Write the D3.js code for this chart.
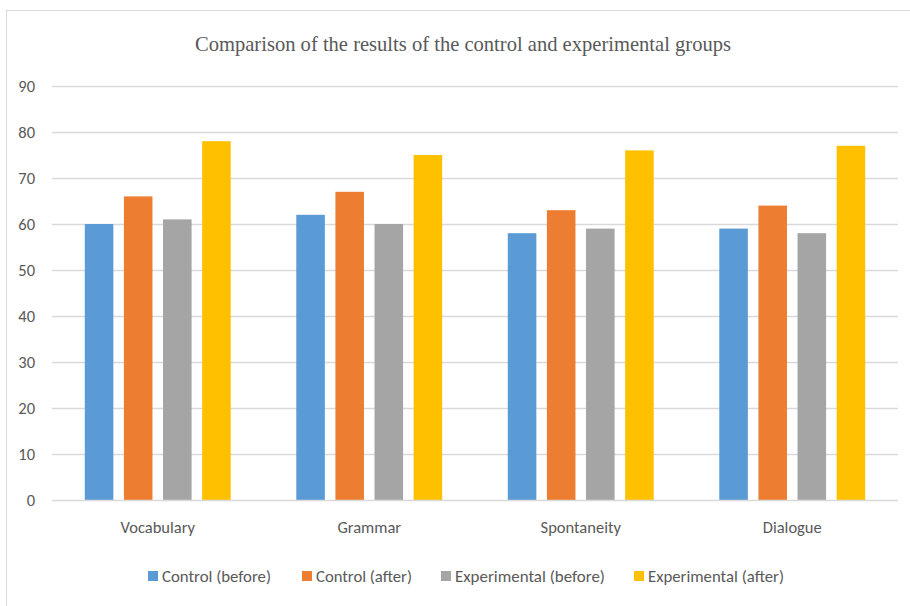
<!DOCTYPE html>
<html>
<head>
<meta charset="utf-8">
<script src="https://cdn.jsdelivr.net/npm/d3@7"></script>
<style>
  body { margin: 0; background: #fff; }
  svg { display: block; }
  .tick text { fill: #595959; }
</style>
</head>
<body>
<div id="chart"></div>
<script>
// chart data
const categories = ['Vocabulary', 'Grammar', 'Spontaneity', 'Dialogue'];
const seriesNames = ['Control (before)', 'Control (after)', 'Experimental (before)', 'Experimental (after)'];
const controlBefore = [60, 62, 58, 59];
const controlAfter = [66, 67, 63, 64];
const experimentalBefore = [61, 60, 59, 58];
const experimentalAfter = [78, 75, 76, 77];
const yTicks = [0, 10, 20, 30, 40, 50, 60, 70, 80, 90];

const colors = ['#5B9BD5', '#ED7D31', '#A5A5A5', '#FFC000'];
const seriesValues = [controlBefore, controlAfter, experimentalBefore, experimentalAfter];

function barChart() {
    let width = 910,
        height = 606,
        margin = { top: 86, left: 52, right: 12, bottom: 106 },
        title = 'Comparison of the results of the control and experimental groups',
        font = 'Carlito, Lato, sans-serif';

    function chart(selector) {
        let svg = d3.select(selector)
            .append('svg')
            .attr('width', width)
            .attr('height', height)

        // outer frame
        svg.append('rect')
            .attr('x', 6.5)
            .attr('y', 10.5)
            .attr('width', width + 20)
            .attr('height', height)
            .attr('fill', 'none')
            .attr('stroke', '#d9d9d9')

        // flatten data into one row per bar
        let rows = []
        categories.forEach((c, i) => {
            seriesNames.forEach((s, j) => {
                rows.push({ category: c, series: s, value: seriesValues[j][i], color: colors[j] })
            })
        })

        let x0 = d3.scaleBand()
            .domain(categories)
            .range([margin.left, width - margin.right])
            .paddingInner(0.31)
            .paddingOuter(0.155)

        let x1 = d3.scaleBand()
            .domain(seriesNames)
            .range([0, x0.bandwidth()])
            .paddingInner(0.27)

        let y = d3.scaleLinear()
            .domain([0, 90])
            .range([height - margin.bottom, margin.top])

        // gridlines
        svg.append('g')
            .selectAll('line')
            .data(yTicks.slice(1)).enter()
            .append('line')
            .attr('x1', margin.left)
            .attr('x2', width - margin.right)
            .attr('y1', d => Math.round(y(d)) + 0.5)
            .attr('y2', d => Math.round(y(d)) + 0.5)
            .attr('stroke', '#d9d9d9')
            .attr('stroke-width', 1.3)

        // y axis labels
        let yAxis = svg.append('g')
            .attr('transform', `translate(${margin.left},0)`)
            .call(d3.axisLeft(y).tickValues(yTicks).tickSize(0).tickPadding(17))
        yAxis.select('.domain').remove()
        yAxis.selectAll('text')
            .style('font-family', font)
            .style('font-size', '16.5px')

        // bars
        svg.append('g')
            .selectAll('rect')
            .data(rows).enter()
            .append('rect')
            .attr('x', d => x0(d.category) + x1(d.series))
            .attr('y', d => y(d.value))
            .attr('width', x1.bandwidth())
            .attr('height', d => y(0) - y(d.value))
            .attr('fill', d => d.color)

        // baseline
        svg.append('line')
            .attr('x1', margin.left)
            .attr('x2', width - margin.right)
            .attr('y1', Math.round(y(0)) + 0.5)
            .attr('y2', Math.round(y(0)) + 0.5)
            .attr('stroke', '#d9d9d9')
            .attr('stroke-width', 1.3)

        // category labels
        let xAxis = svg.append('g')
            .attr('transform', `translate(0,${y(0)})`)
            .call(d3.axisBottom(x0).tickSize(0).tickPadding(21))
        xAxis.select('.domain').remove()
        xAxis.selectAll('text')
            .style('font-family', font)
            .style('font-size', '16.5px')

        // title
        svg.append('text')
            .attr('x', 195)
            .attr('y', 51)
            .attr('textLength', 536)
            .attr('lengthAdjust', 'spacingAndGlyphs')
            .style('font-family', '"Liberation Serif", "Times New Roman", serif')
            .style('font-size', '21px')
            .attr('fill', '#595959')
            .text(title)

        // legend
        let legendX = [148, 302, 441, 634],
            legendW = [109, 96, 150, 136]
        let legend = svg.append('g')
            .selectAll('g')
            .data(seriesNames).enter()
            .append('g')
            .attr('transform', (d, i) => `translate(${legendX[i]},576)`)
        legend.append('rect')
            .attr('x', 0)
            .attr('y', -5)
            .attr('width', 10)
            .attr('height', 10)
            .attr('fill', (d, i) => colors[i])
        legend.append('text')
            .attr('x', 14)
            .attr('y', 6)
            .attr('textLength', (d, i) => legendW[i])
            .attr('lengthAdjust', 'spacingAndGlyphs')
            .style('font-family', font)
            .style('font-size', '16.5px')
            .attr('fill', '#595959')
            .text(d => d)

        return chart;
    }

    return chart;
}

barChart()('#chart')
</script>
</body>
</html>
